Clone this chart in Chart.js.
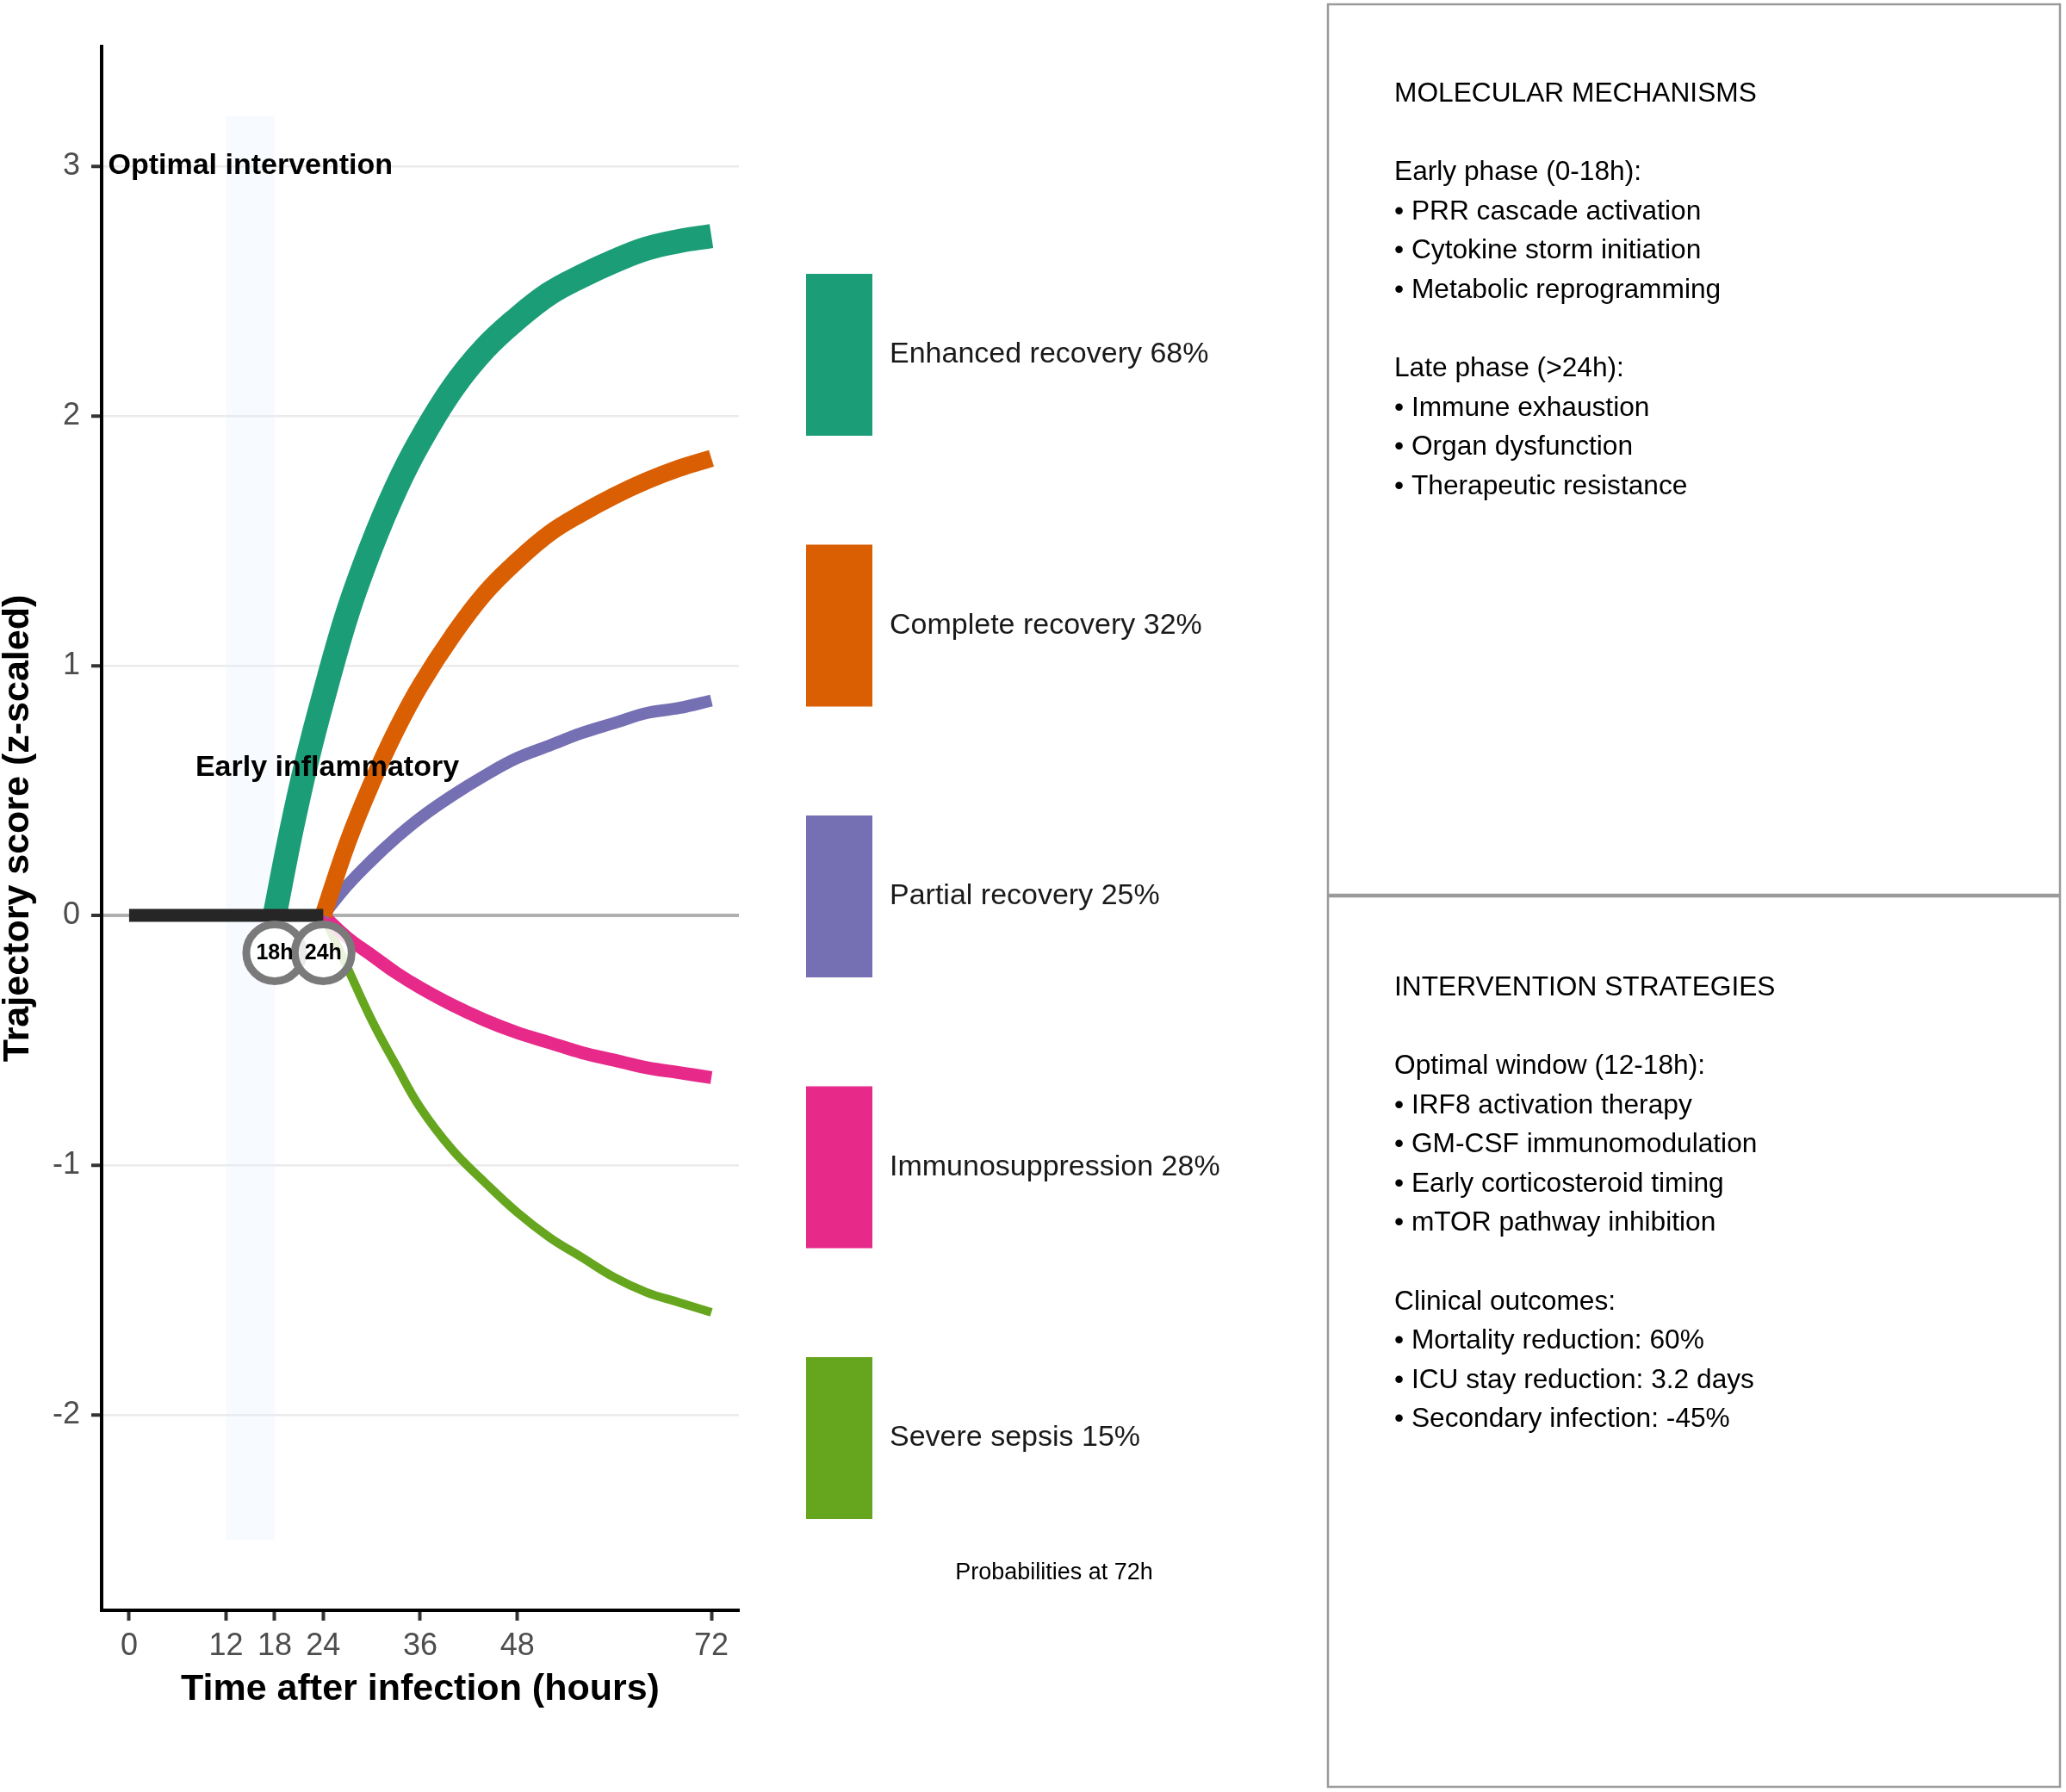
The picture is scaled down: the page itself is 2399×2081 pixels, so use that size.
<!DOCTYPE html>
<html lang="en">
<head>
<meta charset="UTF-8">
<title>Sepsis trajectory branches</title>
<script src="https://cdn.jsdelivr.net/npm/chart.js"></script>
<style>
  body { margin: 0; background: #fff; }
  canvas { display: block; }
</style>
</head>
<body>
<canvas id="trajChart" width="2399" height="2081"></canvas>
<script>
const FONT = "'Liberation Sans', Arial, Helvetica, sans-serif";

// branch data (hours after infection, z-scaled score)
const hoursEnhanced = [18, 20, 22, 24, 27, 30, 33, 36, 40, 44, 48, 52, 56, 60, 64, 68, 72];
const scoreEnhanced = [0, 0.33, 0.62, 0.87, 1.21, 1.48, 1.71, 1.90, 2.11, 2.27, 2.39, 2.49, 2.56, 2.62, 2.67, 2.70, 2.72];
const hoursLate = [24, 27, 30, 33, 36, 40, 44, 48, 52, 56, 60, 64, 68, 72];
const scoreComplete = [0, 0.29, 0.53, 0.74, 0.92, 1.12, 1.29, 1.42, 1.53, 1.61, 1.68, 1.74, 1.79, 1.83];
const scorePartial = [0, 0.12, 0.22, 0.31, 0.39, 0.48, 0.56, 0.63, 0.68, 0.73, 0.77, 0.81, 0.83, 0.86];
const scoreImmuno = [0, -0.09, -0.16, -0.23, -0.29, -0.36, -0.42, -0.47, -0.51, -0.55, -0.58, -0.61, -0.63, -0.65];
const scoreSevere = [0, -0.21, -0.42, -0.60, -0.77, -0.94, -1.07, -1.19, -1.29, -1.37, -1.45, -1.51, -1.55, -1.59];

// shared early trunk
const hoursTrunk = [0, 18, 24];
const scoreTrunk = [0, 0, 0];

// branch points
const branchHours = [18, 24];
const branchScore = [-0.15, -0.15];
const branchLabels = ['18h', '24h'];

// outcome legend
const outcomeNames = ['Enhanced recovery', 'Complete recovery', 'Partial recovery', 'Immunosuppression', 'Severe sepsis'];
const outcomeProb = [68, 32, 25, 28, 15];
const outcomeColors = ['#1b9e77', '#d95f02', '#7570b3', '#e7298a', '#66a61e'];
const outcomeWidths = [28, 20, 14, 15, 10];

// optimal window band
const windowHours = [12, 18];
const windowScore = [-2.5, 3.2];

// axis ticks
const xTicks = [0, 12, 18, 24, 36, 48, 72];
const yTicks = [-2, -1, 0, 1, 2, 3];

// text annotations [x, y, text]
const notes = [[15, 3.0, 'Optimal intervention'], [24.5, 0.59, 'Early inflammatory']];

const mechanismLines = [
  'MOLECULAR MECHANISMS', '',
  'Early phase (0-18h):',
  '\u2022 PRR cascade activation',
  '\u2022 Cytokine storm initiation',
  '\u2022 Metabolic reprogramming', '',
  'Late phase (>24h):',
  '\u2022 Immune exhaustion',
  '\u2022 Organ dysfunction',
  '\u2022 Therapeutic resistance'
];
const strategyLines = [
  'INTERVENTION STRATEGIES', '',
  'Optimal window (12-18h):',
  '\u2022 IRF8 activation therapy',
  '\u2022 GM-CSF immunomodulation',
  '\u2022 Early corticosteroid timing',
  '\u2022 mTOR pathway inhibition', '',
  'Clinical outcomes:',
  '\u2022 Mortality reduction: 60%',
  '\u2022 ICU stay reduction: 3.2 days',
  '\u2022 Secondary infection: -45%'
];

function pts(xs, ys) { return xs.map((v, i) => ({x: v, y: ys[i]})); }

const branchSeries = [
  pts(hoursEnhanced, scoreEnhanced),
  pts(hoursLate, scoreComplete),
  pts(hoursLate, scorePartial),
  pts(hoursLate, scoreImmuno),
  pts(hoursLate, scoreSevere)
];

const datasets = [{
  label: 'branch points',
  data: pts(branchHours, branchScore),
  showLine: false,
  pointRadius: 33,
  pointBorderWidth: 9,
  pointBorderColor: '#7a7a7a',
  pointBackgroundColor: 'rgba(255,255,255,0.85)',
  order: 0
}, {
  label: 'trunk',
  data: pts(hoursTrunk, scoreTrunk),
  borderColor: '#262626',
  borderWidth: 15,
  pointRadius: 0,
  order: 1
}];
branchSeries.forEach((d, i) => {
  datasets.push({
    label: outcomeNames[i],
    data: d,
    borderColor: outcomeColors[i],
    borderWidth: outcomeWidths[i],
    pointRadius: 0,
    tension: 0.4,
    order: 2 + i
  });
});

const overlay = {
  id: 'overlay',
  beforeDatasetsDraw(chart) {
    const {ctx, scales: {x, y}} = chart;
    const x0 = x.getPixelForValue(windowHours[0]), x1 = x.getPixelForValue(windowHours[1]);
    const y0 = y.getPixelForValue(windowScore[1]), y1 = y.getPixelForValue(windowScore[0]);
    ctx.save();
    ctx.fillStyle = 'rgba(225,238,255,0.28)';
    ctx.fillRect(x0, y0, x1 - x0, y1 - y0);
    ctx.restore();
  },
  afterDatasetsDraw(chart) {
    const {ctx, scales: {x, y}} = chart;
    ctx.save();
    ctx.fillStyle = '#000';
    ctx.textAlign = 'center';
    ctx.textBaseline = 'middle';
    ctx.font = 'bold 34px ' + FONT;
    notes.forEach(n => ctx.fillText(n[2], x.getPixelForValue(n[0]), y.getPixelForValue(n[1])));
    ctx.font = 'bold 25px ' + FONT;
    chart.getDatasetMeta(0).data.forEach((p, i) => ctx.fillText(branchLabels[i], p.x, p.y + 1));
    ctx.restore();
  },
  afterDraw(chart) {
    const ctx = chart.ctx;
    ctx.save();
    // legend of outcomes
    ctx.textAlign = 'left';
    ctx.textBaseline = 'middle';
    ctx.font = '34px ' + FONT;
    outcomeNames.forEach((name, i) => {
      const top = 318 + i * 314.5;
      ctx.fillStyle = outcomeColors[i];
      ctx.fillRect(936, top, 77, 188);
      ctx.fillStyle = '#1a1a1a';
      ctx.fillText(name + ' ' + outcomeProb[i] + '%', 1033, top + 94);
    });
    ctx.textAlign = 'center';
    ctx.font = '27px ' + FONT;
    ctx.fillStyle = '#000';
    ctx.fillText('Probabilities at 72h', 1224, 1827);

    // side panels
    ctx.strokeStyle = '#9a9a9a';
    ctx.lineWidth = 2.5;
    ctx.strokeRect(1542, 5, 850, 1034);
    ctx.strokeRect(1542, 1041, 850, 1034);
    ctx.fillStyle = '#000';
    ctx.textAlign = 'left';
    ctx.font = '31.7px ' + FONT;
    mechanismLines.forEach((t, i) => ctx.fillText(t, 1619, 109 + i * 45.6));
    strategyLines.forEach((t, i) => ctx.fillText(t, 1619, 1147 + i * 45.6));
    ctx.restore();
  }
};

new Chart(document.getElementById('trajChart').getContext('2d'), {
  type: 'line',
  data: {datasets},
  options: {
    responsive: false,
    devicePixelRatio: 1,
    animation: false,
    events: [],
    layout: {padding: {left: 0, top: 54, right: 1541, bottom: 0}},
    plugins: {legend: {display: false}, tooltip: {enabled: false}},
    scales: {
      x: {
        type: 'linear',
        min: -3.4,
        max: 75.4,
        afterFit(scale) { scale.height = 211; },
        afterBuildTicks(scale) { scale.ticks = xTicks.map(v => ({value: v})); },
        border: {display: true, color: '#000', width: 4},
        grid: {drawOnChartArea: false, drawTicks: true, tickLength: 12, tickColor: '#333', tickWidth: 4},
        ticks: {color: '#4d4d4d', padding: 8, font: {family: FONT, size: 36}, maxRotation: 0, autoSkip: false},
        title: {
          display: true,
          text: 'Time after infection (hours)',
          color: '#000',
          font: {family: FONT, size: 43, weight: 'bold'},
          padding: {top: 0, bottom: 93}
        }
      },
      y: {
        type: 'linear',
        min: -2.783,
        max: 3.479,
        afterFit(scale) { scale.width = 118; },
        afterBuildTicks(scale) { scale.ticks = yTicks.map(v => ({value: v})); },
        border: {display: true, color: '#000', width: 4},
        grid: {
          color: c => (c.tick && c.tick.value === 0) ? '#b0b0b0' : '#ebebeb',
          lineWidth: c => (c.tick && c.tick.value === 0) ? 4 : 2.5,
          tickLength: 12,
          tickColor: '#333',
          tickWidth: 4
        },
        ticks: {color: '#4d4d4d', padding: 13, font: {family: FONT, size: 36}},
        title: {
          display: true,
          text: 'Trajectory score (z-scaled)',
          color: '#000',
          font: {family: FONT, size: 43, weight: 'bold', lineHeight: 1},
          padding: {top: 0, bottom: 0}
        }
      }
    }
  },
  plugins: [overlay]
});
</script>
</body>
</html>
